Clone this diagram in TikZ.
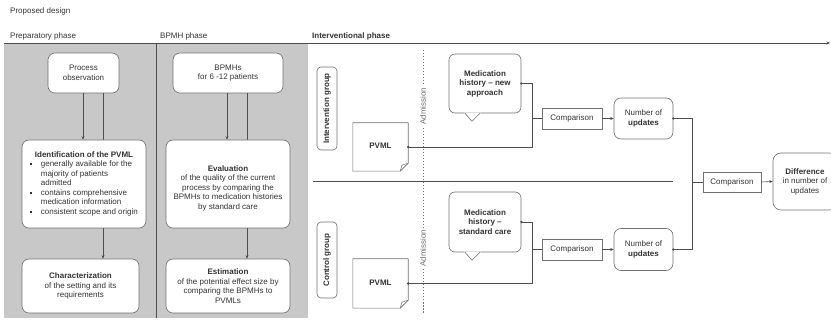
\documentclass[tikz,border=0pt]{standalone}
\usepackage{fontspec}
\setmainfont{Liberation Sans}
\usetikzlibrary{arrows.meta}
\definecolor{linec}{HTML}{4D4D4D}
\definecolor{boxc}{HTML}{707070}
\definecolor{textc}{HTML}{333333}
\definecolor{panel}{HTML}{C8C8C8}
\newcommand\fs{\fontsize{8}{9.5}\selectfont}
\newcommand\sqb{\raisebox{1.6pt}{\rule{2.2pt}{2.2pt}}}
\begin{document}
\begin{tikzpicture}[x=1pt,y=-1pt, font=\fs, text=textc,
  rbox/.style={draw=boxc, fill=white, line width=0.6pt, rounded corners=7pt, align=center, inner sep=0pt},
  tbox/.style={draw=boxc, fill=white, line width=0.6pt, rounded corners=7pt, inner sep=0pt},
  sbox/.style={draw=boxc, fill=white, line width=0.6pt, align=center, inner sep=0pt},
  conn/.style={draw=linec, line width=0.6pt},
  arr/.style={conn, -{Stealth[length=3.5pt,width=3pt]}},
  jdot/.style={circle, fill=linec, inner sep=0pt, minimum size=2.6pt},
  lbl/.style={anchor=base west, inner sep=0pt},
  admis/.style={rotate=90, fill=white, inner sep=1.5pt, text=boxc},
  gbox/.style={rbox, rounded corners=4pt, rotate=90, minimum height=20, font=\fs\bfseries},
]
\clip (0,0) rectangle (831,323);
\useasboundingbox (0,0) rectangle (831,323);

% grey panel
\fill[panel] (4,43) rectangle (308,318);
\coordinate (divT) at (156,43);
\coordinate (divB) at (156,318);
\draw[linec, line width=0.5pt] (divT) -- (divB);

% headings
\node[lbl] (ttl) at (10,14) {Proposed design};
\node[lbl] (prep) at (10,39) {Preparatory phase};
\node[lbl] (bpmhp) at (160,39) {BPMH phase};
\node[lbl, font=\fs\bfseries] (intp) at (312,39) {Interventional phase};
\coordinate (axs) at (4,43);
\coordinate (axe) at (830,43);
\draw[arr] (axs) -- (axe);

% preparatory column
\node[rbox, minimum width=71, minimum height=40] (po) at (83.5,73) {Process\\observation};
\node[rbox, minimum width=117, minimum height=54] (ch) at (80.5,286) {\textbf{Characterization}\\of the setting and its\\requirements};
\draw[arr] ([xshift=19.5pt]po.south) -- ([xshift=19.5pt]po.south |- ch.north);
\node[tbox, minimum width=124, minimum height=88] (ident) at (84,184) {%
\begin{tabular}{@{}l@{\hspace{8.5pt}}l@{}}
\multicolumn{2}{@{}c@{}}{\textbf{Identification of the PVML}}\\
\sqb & generally available for the\\
 & majority of patients\\
 & admitted\\
\sqb & contains comprehensive\\
 & medication information\\
\sqb & consistent scope and origin
\end{tabular}};
\draw[arr] ([xshift=-0.5pt]po.south) -- ([xshift=-0.5pt]po.south |- ident.north);

% BPMH column
\node[rbox, minimum width=110, minimum height=40] (bp) at (228,73) {BPMHs\\for 6 -12 patients};
\node[rbox, minimum width=124, minimum height=54] (est) at (228,286) {\textbf{Estimation}\\of the potential effect size by\\comparing the BPMHs to\\PVMLs};
\draw[arr] ([xshift=19pt]bp.south) -- ([xshift=19pt]bp.south |- est.north);
\node[rbox, minimum width=124, minimum height=88] (eval) at (228,184) {};
\node[align=center, inner sep=0pt] (evalt) at ([yshift=-4pt]eval.center) {\textbf{Evaluation}\\of the quality of the current\\process by comparing the\\BPMHs to medication histories\\by standard care};
\draw[arr] ([xshift=-1pt]bp.south) -- ([xshift=-1pt]bp.south |- eval.north);

% interventional phase
\node[gbox, minimum width=83] (ig) at (327,108.5) {Intervention group};
\node[gbox, minimum width=76] (cg) at (327,260) {Control group};
\coordinate (sepL) at (313,181);
\coordinate (sepR) at (673,181);
\draw[conn] (sepL) -- (sepR);
\coordinate (adT) at (423,50);
\coordinate (adB) at (423,313);
\draw[boxc, line width=0.6pt, dash pattern=on 1.5pt off 1.5pt] (adT) -- (adB);
\node[admis] (ad1) at (423,106) {Admission};
\node[admis] (ad2) at (423,248) {Admission};

% PVML documents
\node[inner sep=0pt, minimum width=55, minimum height=48, font=\fs\bfseries] (pv1) at (380.5,147) {\raisebox{2pt}{PVML}};
\node[inner sep=0pt, minimum width=55, minimum height=49, font=\fs\bfseries] (pv2) at (380.5,283.5) {\raisebox{2pt}{PVML}};
\foreach \p in {pv1,pv2}{
  \draw[boxc, line width=0.6pt, line join=round] (\p.north west) -- (\p.north east) -- ([yshift=8pt]\p.south east) -- ([xshift=-8pt]\p.south east) -- (\p.south west) -- cycle;
  \draw[boxc, line width=0.5pt, line join=round] ([yshift=8pt]\p.south east) -- ([xshift=-6.3pt,yshift=6pt]\p.south east) -- ([xshift=-8pt]\p.south east);
}

% medication history bubbles
\node[rbox, rounded corners=6pt, minimum width=72, minimum height=59, font=\fs\bfseries] (mh1) at (485,83.5) {Medication\\history – new\\approach};
\node[rbox, rounded corners=6pt, minimum width=72, minimum height=60, font=\fs\bfseries] (mh2) at (485,222) {Medication\\history –\\standard care};
\foreach \m in {mh1,mh2}{
  \fill[white] ([xshift=-21pt,yshift=0.7pt]\m.south) -- ([xshift=-13pt,yshift=-8pt]\m.south) -- ([xshift=-4pt,yshift=0.7pt]\m.south) -- cycle;
  \draw[boxc, line width=0.6pt, line join=round] ([xshift=-20pt]\m.south) -- ([xshift=-13pt,yshift=-8pt]\m.south) -- ([xshift=-5pt]\m.south);
}

% comparisons and counts
\coordinate (j1) at (532,118.5);
\coordinate (j2) at (532,249.5);
\node[sbox, minimum width=60, minimum height=21] (c1) at (572,118.5) {Comparison};
\node[sbox, minimum width=60, minimum height=21] (c2) at (572,249.5) {Comparison};
\node[rbox, minimum width=59, minimum height=41] (n1) at (643.5,118.5) {Number of\\\textbf{updates}};
\node[rbox, minimum width=59, minimum height=42] (n2) at (643.5,249.5) {Number of\\\textbf{updates}};

\draw[conn] (mh1.east) -- (mh1.east -| j1) -- (pv1.east -| j1) -- (pv1.east);
\draw[conn] (mh2.east) -- (mh2.east -| j2) -- (pv2.east -| j2) -- (pv2.east);
\draw[conn] (j1) -- (c1.west);
\draw[conn] (j2) -- (c2.west);
\draw[arr] (c1.east) -- (n1.west);
\draw[arr] (c2.east) -- (n2.west);
\node[jdot] (dm1) at (mh1.east) {};
\node[jdot] (dp1) at (pv1.east) {};
\node[jdot] (dm2) at (mh2.east) {};
\node[jdot] (dp2) at (pv2.east) {};

% final comparison
\coordinate (j3) at (692,182);
\node[sbox, minimum width=58, minimum height=20] (c3) at (732,182) {Comparison};
\node[rbox, rounded corners=8pt, minimum width=64, minimum height=57] (df) at (805,181.5) {\textbf{Difference}\\in number of\\updates};
\draw[conn] (n1.east) -- (n1.east -| j3) -- (n2.east -| j3) -- (n2.east);
\draw[conn] (j3) -- (c3.west);
\draw[arr] (c3.east) -- (df.west);
\node[jdot] (dn1) at (n1.east) {};
\node[jdot] (dn2) at (n2.east) {};
\end{tikzpicture}
\end{document}
